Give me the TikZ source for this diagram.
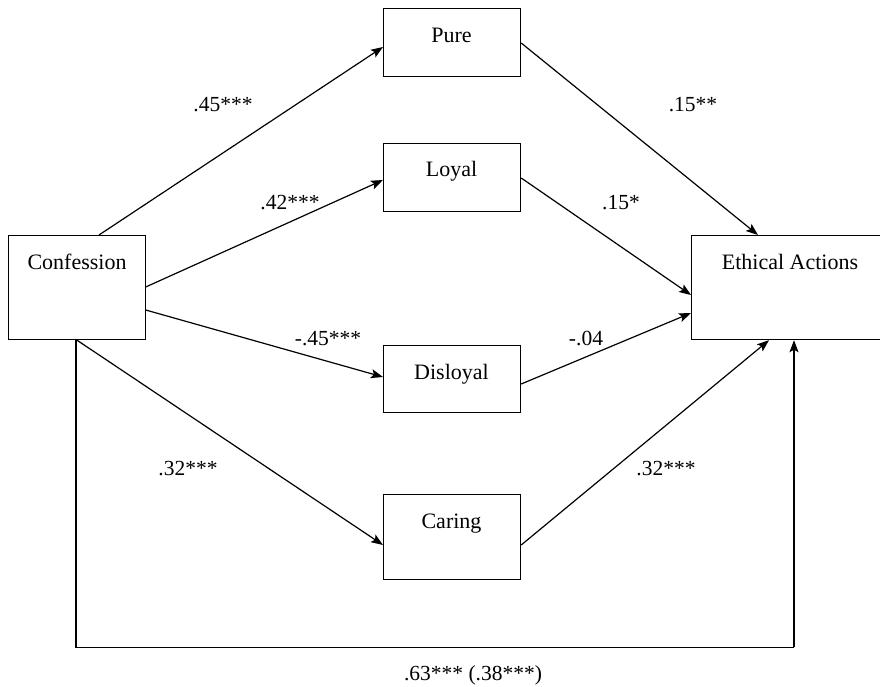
\documentclass[tikz,border=0pt]{standalone}
\usepackage{fontspec}
\setmainfont{Liberation Serif}
\usetikzlibrary{arrows.meta,calc}
\begin{document}
\begin{tikzpicture}[x=1pt,y=-1pt,
  box/.style={draw, line width=1.2pt, inner sep=0pt, anchor=north west, minimum width=137pt},
  txt/.style={font=\fontsize{22}{26}\selectfont, inner sep=0pt, anchor=base},
  lbl/.style={font=\fontsize{21.5}{26}\selectfont, inner sep=0pt, anchor=base},
  arr/.style={line width=1.2pt, -{Stealth[length=12pt,width=9pt,inset=2.5pt]}},
  ln/.style={line width=1.2pt}]
\useasboundingbox (0,0) rectangle (880,687);

% boxes
\node[box, minimum height=104pt] (conf) at (7.5,235) {};
\node[box, minimum height=68pt] (pure) at (383,8) {};
\node[box, minimum height=68pt] (loyal) at (383,143) {};
\node[box, minimum height=67pt] (disl) at (383,345) {};
\node[box, minimum height=85pt] (car) at (383,494) {};
\node[box, minimum width=200pt, minimum height=104pt] (eth) at (691,235) {};

% box texts
\node[txt] (conftxt) at (77,269) {Confession};
\node[txt] (puretxt) at (451.5,43) {Pure};
\node[txt] (loyaltxt) at (451.5,177) {Loyal};
\node[txt] (disltxt) at (451.5,379) {Disloyal};
\node[txt] (cartxt) at (451.5,528) {Caring};
\node[txt] (ethtxt) at (790,269) {Ethical Actions};

% connectors from Confession
\draw[arr] ($(conf.north west)+(91.5,0)$) -- ($(pure.north west)+(0,39)$);
\draw[arr] ($(conf.north east)+(0,52)$) -- ($(loyal.north west)+(0,37)$);
\draw[arr] ($(conf.north east)+(0,75)$) -- ($(disl.north west)+(0,32)$);
\draw[arr] ($(conf.south west)+(69.5,0)$) -- ($(car.north west)+(0,51)$);

% connectors into Ethical Actions
\draw[arr] ($(pure.north east)+(0,35)$) -- ($(eth.north west)+(67,0)$);
\draw[arr] ($(loyal.north east)+(0,35)$) -- ($(eth.north west)+(0,60)$);
\draw[arr] ($(disl.north east)+(0,39)$) -- ($(eth.north west)+(0,78)$);
\draw[arr] ($(car.north east)+(0,51)$) -- ($(eth.south west)+(78,0)$);

% direct path
\coordinate (cl) at ($(conf.south west)+(68.5,307)$);
\coordinate (cr) at ($(eth.south west)+(103,307)$);
\draw[ln] ($(conf.south west)+(68.5,0)$) -- (cl) -- (cr);
\draw[arr] (cr) -- ($(eth.south west)+(103,0)$);

% coefficient labels
\node[lbl] (l1) at (223,112) {.45***};
\node[lbl] (l2) at (290,209) {.42***};
\node[lbl] (l3) at (328,345) {-.45***};
\node[lbl] (l4) at (188,475) {.32***};
\node[lbl] (l5) at (693,112) {.15**};
\node[lbl] (l6) at (621,209) {.15*};
\node[lbl] (l7) at (586,345) {-.04};
\node[lbl] (l8) at (666,475) {.32***};
\node[lbl] (l9) at (473,680) {.63*** (.38***)};
\end{tikzpicture}
\end{document}
